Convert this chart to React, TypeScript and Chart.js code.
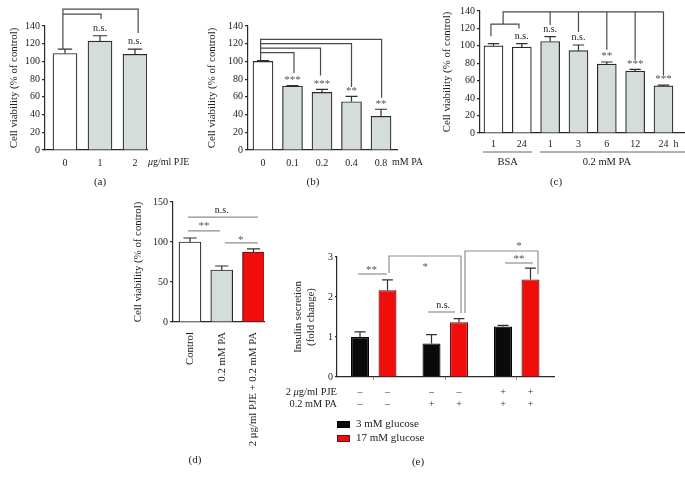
import React, { useEffect, useRef } from 'react';
import { Chart, registerables } from 'chart.js';

Chart.register(...registerables);

const W = 685;
const H = 482;
const SERIF = '"Liberation Serif", "Times New Roman", "DejaVu Serif", serif';
const INK = '#222222';
const AXIS = '#2a2a2a';
const BRACKET_DARK = '#4a4a4a';
const BRACKET_LIGHT = '#8e8e8e';
const STAR = '#555555';
const WHITE = '#ffffff';
const GRAY = '#d5dddb';
const RED = '#f20d0d';
const RED_EDGE = '#5a1414';
const BLACK = '#0a0a0a';

// ---------------- data ----------------
// (a)
const aLabels = ['0', '1', '2'];
const aMeans = [109, 123, 108];
const aErrors = [5, 6, 6];
const aSig = ['', 'n.s.', 'n.s.'];
const aBrackets: [number, number][][] = [
  [[-0.06, 114], [-0.06, 159], [2.09, 159], [2.09, 132]],
  [[-0.06, 153.5], [1.03, 153.5], [1.03, 148]],
];
// (b)
const bLabels = ['0', '0.1', '0.2', '0.4', '0.8'];
const bMeans = [100, 72, 65, 54.5, 38];
const bErrors = [1, 0.7, 3.5, 6, 8];
const bSig = ['', '***', '***', '**', '**'];
const bBrackets: [number, number][][] = [
  [[-0.08, 101.5], [-0.08, 125], [4.02, 125], [4.02, 59]],
  [[-0.08, 120], [3.0, 120], [3.0, 71]],
  [[-0.08, 115], [1.95, 115], [1.95, 84]],
  [[-0.08, 110], [1.05, 110], [1.05, 87]],
];
// (c)
const cLabels = ['1', '24', '1', '3', '6', '12', '24'];
const cMeans = [100, 98.5, 105, 94.5, 79, 71, 54];
const cErrors = [2.5, 4, 5.5, 6.5, 2.5, 2, 1];
const cSig = ['', 'n.s.', 'n.s.', 'n.s.', '**', '***', '***'];
const cGroupNames = ['BSA', '0.2 mM PA'];
const cGroupSpans = [[0, 1], [2, 6]];
const cBrackets: [number, number][][] = [
  [[-0.09, 111], [-0.09, 125], [0.9, 125], [0.9, 120]],
  [[0.34, 125], [0.34, 139], [6, 139]],
  [[2, 139], [2, 124]],
  [[3, 139], [3, 116]],
  [[4, 139], [4, 95.5]],
  [[5, 139], [5, 84]],
  [[6, 139], [6, 66.5]],
];
// (d)
const dLabels = ['Control', '0.2 mM PA', '2 μg/ml PJE + 0.2 mM PA'];
const dMeans = [100, 65, 87.5];
const dErrors = [5, 5, 4];
const dBrackets: [number, number][][] = [
  [[-0.06, 131], [2.14, 131]],
  [[-0.06, 114], [0.95, 114]],
  [[1.1, 99], [2.14, 99]],
];
const dBracketText: [string, number, number][] = [
  ['n.s.', 1.0, 140],
  ['**', 0.44, 122],
  ['*', 1.6, 105],
];
// (e)
const eGroups = ['g1', 'g2', 'g3'];
const eSeries = ['3 mM glucose', '17 mM glucose'];
const eLow = [1.0, 0.84, 1.26];
const eLowErr = [0.13, 0.22, 0.03];
const eHigh = [2.17, 1.37, 2.44];
const eHighErr = [0.26, 0.09, 0.28];
const ePJE = ['–', '–', '+'];
const ePA = ['–', '+', '+'];
const eBrackets: [number, number][][] = [
  [[-0.22, 2.575], [0.185, 2.575]],
  [[0.213, 2.6], [0.213, 3.025], [1.22, 3.025], [1.22, 1.6]],
  [[0.758, 1.625], [1.136, 1.625]],
  [[1.276, 1.6], [1.276, 3.15], [2.297, 3.15], [2.297, 2.575]],
  [[1.836, 2.85], [2.227, 2.85]],
];
const eBracketText: [string, number, number][] = [
  ['**', -0.03, 2.72],
  ['*', 0.72, 2.8],
  ['n.s.', 0.97, 1.8],
  ['*', 2.03, 3.32],
  ['**', 2.03, 3.0],
];

// ---------------- helpers ----------------
type Pt = [number, number];

function px(chart: any, v: number) {
  return chart.scales.x.getPixelForValue(v);
}
function py(chart: any, v: number) {
  return chart.scales.y.getPixelForValue(v);
}

function polyline(chart: any, pts: Pt[], color: string, width = 1.2) {
  const ctx = chart.ctx as CanvasRenderingContext2D;
  ctx.save();
  ctx.strokeStyle = color;
  ctx.lineWidth = width;
  ctx.beginPath();
  pts.forEach(([x, y], k) => {
    const X = px(chart, x);
    const Y = py(chart, y);
    if (k === 0) ctx.moveTo(X, Y);
    else ctx.lineTo(X, Y);
  });
  ctx.stroke();
  ctx.restore();
}

function textAt(
  ctx: CanvasRenderingContext2D,
  s: string,
  x: number,
  y: number,
  o: { size?: number; color?: string; align?: CanvasTextAlign; italic?: boolean } = {}
) {
  const isStar = /^\*+$/.test(s);
  const size = o.size ?? (isStar ? 11 : 10);
  ctx.save();
  ctx.font = `${o.italic ? 'italic ' : ''}${size}px ${SERIF}`;
  ctx.fillStyle = o.color ?? INK;
  ctx.textAlign = o.align ?? 'center';
  ctx.textBaseline = 'middle';
  ctx.fillText(s, x, y + (isStar ? size * 0.18 : 0));
  ctx.restore();
}

function richAt(
  ctx: CanvasRenderingContext2D,
  parts: [string, boolean][],
  x: number,
  y: number,
  align: 'left' | 'right',
  size = 10,
  color = INK
) {
  ctx.save();
  ctx.textBaseline = 'middle';
  ctx.textAlign = 'left';
  ctx.fillStyle = color;
  const fontOf = (it: boolean) => `${it ? 'italic ' : ''}${size}px ${SERIF}`;
  let total = 0;
  parts.forEach(([s, it]) => {
    ctx.font = fontOf(it);
    total += ctx.measureText(s).width;
  });
  let cx = align === 'left' ? x : x - total;
  parts.forEach(([s, it]) => {
    ctx.font = fontOf(it);
    ctx.fillText(s, cx, y);
    cx += ctx.measureText(s).width;
  });
  ctx.restore();
}

function drawErrors(chart: any) {
  const ctx = chart.ctx as CanvasRenderingContext2D;
  chart.data.datasets.forEach((ds: any, di: number) => {
    const meta = chart.getDatasetMeta(di);
    meta.data.forEach((el: any, i: number) => {
      const top = py(chart, ds.data[i].y + ds.errors[i]);
      const cap = el.width * 0.6;
      ctx.save();
      ctx.strokeStyle = '#303030';
      ctx.lineWidth = 1.2;
      ctx.beginPath();
      ctx.moveTo(el.x, el.y);
      ctx.lineTo(el.x, top);
      ctx.moveTo(el.x - cap / 2, top);
      ctx.lineTo(el.x + cap / 2, top);
      ctx.stroke();
      ctx.restore();
    });
  });
}

function drawSig(chart: any, sig: string[], gap = 7.5) {
  const ctx = chart.ctx as CanvasRenderingContext2D;
  const ds = chart.data.datasets[0];
  const meta = chart.getDatasetMeta(0);
  sig.forEach((s, i) => {
    if (!s) return;
    const el = meta.data[i] as any;
    const top = py(chart, ds.data[i].y + ds.errors[i]);
    const isStar = /^\*+$/.test(s);
    textAt(ctx, s, el.x, top - gap, { color: isStar ? STAR : INK });
  });
}

interface Layout {
  titleX: number;
  left: number;
  right: number;
  top: number;
  bottom: number;
  xMin: number;
  xMax: number;
  yMax: number;
  yStep: number;
}
interface Series {
  label: string;
  values: number[];
  errors: number[];
  fill: string | string[];
  border: string | string[];
}

const TITLE_SIZE = 10.8;

function buildConfig(o: {
  layout: Layout;
  labels: string[];
  series: Series[];
  yTitle: string | string[];
  barThickness?: number;
  barPct?: number;
  catPct?: number;
  showXLabels?: boolean;
  xTickMarks?: boolean;
  rotate?: number;
  xLabelPad?: number;
  xHeight?: number;
  yTickLen?: number;
  yLabelPad?: number;
  xLabelSize?: number;
  draw: (chart: any) => void;
}) {
  const L = o.layout;
  const lh = TITLE_SIZE * 1.2;
  const padLeft = L.titleX - lh / 2;
  const X_H = o.xHeight ?? 24;
  return {
    type: 'bar',
    data: {
      datasets: o.series.map((s) => ({
        label: s.label,
        data: s.values.map((v, i) => ({ x: i, y: v })),
        errors: s.errors,
        backgroundColor: s.fill,
        borderColor: s.border,
        borderWidth: 1.2,
        barThickness: o.barThickness,
        barPercentage: o.barPct ?? 0.9,
        categoryPercentage: o.catPct ?? 0.8,
      })),
    },
    options: {
      responsive: false,
      animation: false,
      devicePixelRatio: 1,
      events: [],
      layout: {
        padding: { left: padLeft, top: L.top, right: W - L.right, bottom: H - L.bottom - X_H },
      },
      plugins: { legend: { display: false }, tooltip: { enabled: false } },
      scales: {
        x: {
          type: 'linear',
          min: L.xMin,
          max: L.xMax,
          offset: false,
          afterBuildTicks: (sc: any) => {
            sc.ticks = o.labels.map((_, i) => ({ value: i }));
          },
          afterFit: (sc: any) => {
            sc.height = X_H;
          },
          grid: {
            display: !!o.xTickMarks,
            offset: false,
            drawOnChartArea: false,
            drawTicks: true,
            tickLength: 3,
            color: '#9a9a9a',
          },
          border: { display: true, color: AXIS, width: 1.2 },
          ticks: {
            display: o.showXLabels !== false,
            autoSkip: false,
            maxRotation: o.rotate ?? 0,
            minRotation: o.rotate ?? 0,
            padding: o.xLabelPad ?? 4,
            color: INK,
            font: { family: SERIF, size: o.xLabelSize ?? 10 },
            callback: (v: any) => o.labels[Math.round(Number(v))] ?? '',
          },
        },
        y: {
          min: 0,
          max: L.yMax,
          afterFit: (sc: any) => {
            sc.width = L.left - padLeft;
          },
          grid: {
            display: true,
            drawOnChartArea: false,
            drawTicks: true,
            tickLength: o.yTickLen ?? 3,
            color: AXIS,
            lineWidth: 1.2,
          },
          border: { display: true, color: AXIS, width: 1.2 },
          ticks: {
            stepSize: L.yStep,
            padding: o.yLabelPad ?? 2,
            color: INK,
            font: { family: SERIF, size: 10 },
          },
          title: {
            display: true,
            text: o.yTitle,
            color: INK,
            padding: 0,
            font: { family: SERIF, size: TITLE_SIZE },
          },
        },
      },
    },
    plugins: [
      {
        id: 'annotations',
        afterDatasetsDraw(chart: any) {
          drawErrors(chart);
          o.draw(chart);
        },
      },
    ],
  };
}

// ---------------- panels ----------------
function configA() {
  return buildConfig({
    layout: { titleX: 14, left: 45, right: 147, top: 26, bottom: 150, xMin: -0.571, xMax: 2.343, yMax: 140, yStep: 20 },
    labels: aLabels,
    series: [{ label: 'PJE', values: aMeans, errors: aErrors, fill: [WHITE, GRAY, GRAY], border: AXIS }],
    yTitle: 'Cell viability (% of control)',
    barThickness: 24,
    draw: (chart) => {
      const ctx = chart.ctx;
      aBrackets.forEach((p) => polyline(chart, p, BRACKET_DARK));
      drawSig(chart, aSig);
      const lastX = px(chart, aLabels.length - 1);
      richAt(ctx, [['μ', true], ['g/ml PJE', false]], lastX + 13, chart.chartArea.bottom + 12, 'left');
      textAt(ctx, '(a)', 100, 182, { size: 11 });
    },
  });
}

function configB() {
  return buildConfig({
    layout: { titleX: 212.5, left: 248, right: 397, top: 26, bottom: 150, xMin: -0.508, xMax: 4.542, yMax: 140, yStep: 20 },
    labels: bLabels,
    series: [{ label: 'PA', values: bMeans, errors: bErrors, fill: [WHITE, GRAY, GRAY, GRAY, GRAY], border: AXIS }],
    yTitle: 'Cell viability (% of control)',
    barThickness: 20,
    draw: (chart) => {
      const ctx = chart.ctx;
      bBrackets.forEach((p) => polyline(chart, p, BRACKET_DARK));
      drawSig(chart, bSig, 7);
      const lastX = px(chart, bLabels.length - 1);
      textAt(ctx, 'mM PA', lastX + 11, chart.chartArea.bottom + 12, { align: 'left' });
      textAt(ctx, '(b)', 313, 182, { size: 11 });
    },
  });
}

function configC() {
  return buildConfig({
    layout: { titleX: 447, left: 480, right: 685, top: 11, bottom: 133, xMin: -0.476, xMax: 6.76, yMax: 140, yStep: 20 },
    labels: cLabels,
    series: [
      {
        label: 'time',
        values: cMeans,
        errors: cErrors,
        fill: [WHITE, WHITE, GRAY, GRAY, GRAY, GRAY, GRAY],
        border: AXIS,
      },
    ],
    yTitle: 'Cell viability (% of control)',
    barThickness: 19,
    xLabelPad: 2,
    draw: (chart) => {
      const ctx = chart.ctx;
      cBrackets.forEach((p) => polyline(chart, p, BRACKET_DARK));
      drawSig(chart, cSig, 7.5);
      const ca = chart.chartArea;
      const lastX = px(chart, cLabels.length - 1);
      textAt(ctx, 'h', lastX + 10, ca.bottom + 11, { align: 'left' });
      const meta = chart.getDatasetMeta(0);
      cGroupSpans.forEach(([a, b], g) => {
        const ea = meta.data[a] as any;
        const eb = meta.data[b] as any;
        const x1 = ea.x - ea.width / 2 - 1;
        const x2 = g === cGroupSpans.length - 1 ? ca.right : eb.x + eb.width / 2 + 1;
        ctx.save();
        ctx.strokeStyle = '#9a9a9a';
        ctx.lineWidth = 1.5;
        ctx.beginPath();
        ctx.moveTo(x1, ca.bottom + 19);
        ctx.lineTo(x2, ca.bottom + 19);
        ctx.stroke();
        ctx.restore();
        textAt(ctx, cGroupNames[g], (ea.x + eb.x) / 2, ca.bottom + 29, { size: 10.5 });
      });
      textAt(ctx, '(c)', 556, 182, { size: 11 });
    },
  });
}

function configD() {
  return buildConfig({
    layout: { titleX: 138, left: 173, right: 264, top: 202, bottom: 322, xMin: -0.535, xMax: 2.331, yMax: 150, yStep: 50 },
    labels: dLabels,
    series: [
      {
        label: 'treatment',
        values: dMeans,
        errors: dErrors,
        fill: [WHITE, GRAY, RED],
        border: [AXIS, AXIS, RED_EDGE],
      },
    ],
    yTitle: 'Cell viability (% of control)',
    barThickness: 22,
    rotate: 90,
    xLabelPad: 7,
    xHeight: 135,
    xLabelSize: 10.8,
    draw: (chart) => {
      const ctx = chart.ctx;
      dBrackets.forEach((p) => polyline(chart, p, BRACKET_LIGHT));
      dBracketText.forEach(([s, x, y]) =>
        textAt(ctx, s, px(chart, x), py(chart, y), { color: /^\*+$/.test(s) ? STAR : INK })
      );
      textAt(ctx, '(d)', 195, 460, { size: 11 });
    },
  });
}

function configE() {
  return buildConfig({
    layout: { titleX: 298, left: 337, right: 554, top: 257, bottom: 377, xMin: -0.514, xMax: 2.521, yMax: 3, yStep: 1 },
    labels: eGroups,
    series: [
      { label: eSeries[0], values: eLow, errors: eLowErr, fill: BLACK, border: '#000000' },
      { label: eSeries[1], values: eHigh, errors: eHighErr, fill: RED, border: RED_EDGE },
    ],
    yTitle: ['Insulin secretion', '(fold change)'],
    catPct: 0.769,
    barPct: 0.655,
    showXLabels: false,
    xTickMarks: true,
    yTickLen: 2,
    yLabelPad: 2,
    draw: (chart) => {
      const ctx = chart.ctx;
      const ca = chart.chartArea;
      eBrackets.forEach((p) => polyline(chart, p, BRACKET_LIGHT));
      eBracketText.forEach(([s, x, y]) =>
        textAt(ctx, s, px(chart, x), py(chart, y), { color: /^\*+$/.test(s) ? STAR : INK })
      );
      const rowPJE = ca.bottom + 15;
      const rowPA = ca.bottom + 27;
      richAt(ctx, [['2 ', false], ['μ', true], ['g/ml PJE', false]], ca.left, rowPJE, 'right', 10.5);
      textAt(ctx, '0.2 mM PA', ca.left, rowPA, { align: 'right', size: 10.3 });
      [0, 1].forEach((di) => {
        const meta = chart.getDatasetMeta(di);
        meta.data.forEach((el: any, i: number) => {
          textAt(ctx, ePJE[i], el.x, rowPJE, { color: '#333' });
          textAt(ctx, ePA[i], el.x, rowPA, { color: '#333' });
        });
      });
      // legend
      chart.data.datasets.forEach((ds: any, di: number) => {
        const cy = ca.bottom + 47.5 + di * 14;
        ctx.save();
        ctx.fillStyle = ds.backgroundColor;
        ctx.strokeStyle = ds.borderColor;
        ctx.lineWidth = 1;
        ctx.fillRect(ca.left, cy - 3.5, 13, 7);
        ctx.strokeRect(ca.left + 0.5, cy - 3, 12, 6);
        ctx.restore();
        textAt(ctx, ds.label, ca.left + 19, cy, { align: 'left', size: 11 });
      });
      textAt(ctx, '(e)', 418, 462, { size: 11 });
    },
  });
}

export default function App() {
  const refs = useRef<(HTMLCanvasElement | null)[]>([]);
  useEffect(() => {
    const configs = [configA(), configB(), configC(), configD(), configE()];
    const charts = configs.map((cfg, i) => new Chart(refs.current[i] as HTMLCanvasElement, cfg as any));
    return () => charts.forEach((c) => c.destroy());
  }, []);
  return (
    <div style={{ position: 'absolute', left: 0, top: 0, width: W, height: H, background: '#ffffff' }}>
      {[0, 1, 2, 3, 4].map((i) => (
        <canvas
          key={i}
          ref={(el) => {
            refs.current[i] = el;
          }}
          width={W}
          height={H}
          style={{ position: 'absolute', left: 0, top: 0, width: W, height: H }}
        />
      ))}
    </div>
  );
}
